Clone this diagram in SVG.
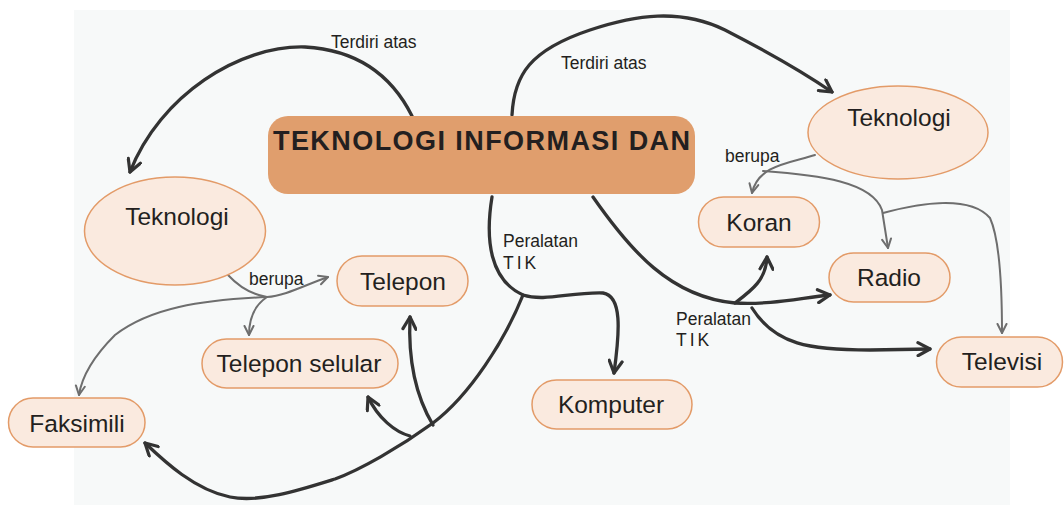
<svg xmlns="http://www.w3.org/2000/svg" width="1064" height="505" viewBox="0 0 1064 505">
<style>
.node rect, .node ellipse { fill: #FAEADF; stroke: #E39B68; stroke-width: 1.5; }
.nt { font-family: "Liberation Sans", Arial, sans-serif; font-size: 24.5px; fill: #231F20; text-anchor: middle; }
.lbl { font-family: "Liberation Sans", Arial, sans-serif; font-size: 17.5px; fill: #231F20; }
.thick { fill: none; stroke: #333333; stroke-width: 3.3; stroke-linecap: round; stroke-linejoin: round; marker-end: url(#ah); }
.thin { fill: none; stroke: #6E6E6E; stroke-width: 2; stroke-linecap: round; stroke-linejoin: round; marker-end: url(#ahs); }
.plain { marker-end: none; }
</style>
<defs>
<marker id="ah" markerUnits="userSpaceOnUse" viewBox="0 0 16 16" refX="14" refY="8" markerWidth="16" markerHeight="16" orient="auto">
<path d="M2,1.5 L14,8 L2,14.5" fill="none" stroke="#333333" stroke-width="3.2" stroke-linecap="round" stroke-linejoin="round"/>
</marker>
<marker id="ahs" markerUnits="userSpaceOnUse" viewBox="0 0 12 12" refX="10.5" refY="6" markerWidth="12" markerHeight="12" orient="auto">
<path d="M1.5,1.5 L10.5,6 L1.5,10.5" fill="none" stroke="#6E6E6E" stroke-width="2" stroke-linecap="round" stroke-linejoin="round"/>
</marker>
</defs>
<rect x="0" y="0" width="1064" height="505" fill="#FFFFFF"/>
<rect x="74" y="10" width="936" height="495" fill="#F7F9F9"/>

<g id="connectors">
<path class="thick" d="M412,116 C392,76 358,50 305,47 C240,45 160,95 130,172"/>
<path class="thick" d="M512,115 C514,75 530,50 590,30 C635,15 680,8 725,30 C760,48 800,70 832,92"/>
<path class="thick" d="M492,197 C485,240 490,280 523,295 C545,302 570,292 603,293 C622,296 620,330 614,373"/>
<path class="thick" d="M523,295 C505,340 470,395 433,423 C400,447 360,470 335,479 C300,490 260,503 230,497 C195,490 165,462 145,443"/>
<path class="thick" d="M433,425 C415,395 408,360 410,317"/>
<path class="thick" d="M410,436 C395,432 378,418 368,397"/>
<path class="thick" d="M593,197 C630,250 670,297 735,303 C770,305 800,298 830,295"/>
<path class="thick" d="M735,303 C752,290 766,280 767,257"/>
<path class="thick" d="M752,308 C775,345 810,350 870,350 L930,349"/>
<path class="thin" d="M815,155 C790,163 758,165 752,193"/>
<path class="thin" d="M763,171 C820,175 872,182 882,210 L888,248"/>
<path class="thin" d="M883,213 C920,203 970,195 990,218 C1000,240 1002,290 1002,333"/>
<path class="thin plain" d="M228,275 C240,288 255,295 267,297"/>
<path class="thin" d="M267,297 C285,296 305,285 328,277"/>
<path class="thin" d="M267,297 C255,305 249,318 249,335"/>
<path class="thin" d="M267,297 C200,300 150,308 115,335 C95,355 82,375 79,395"/>
</g>

<g id="labels">
<text class="lbl" x="331" y="48">Terdiri atas</text>
<text class="lbl" x="561" y="69">Terdiri atas</text>
<text class="lbl" x="725" y="162">berupa</text>
<text class="lbl" x="249" y="285">berupa</text>
<text class="lbl" x="503" y="247">Peralatan</text>
<text class="lbl" x="503" y="269" letter-spacing="3">TIK</text>
<text class="lbl" x="676" y="325">Peralatan</text>
<text class="lbl" x="676" y="346" letter-spacing="3">TIK</text>
</g>

<g id="central">
<rect x="268" y="116" width="427" height="78" rx="20" ry="20" fill="#E09E6D"/>
<text x="273" y="150" font-family="'Liberation Sans', Arial, sans-serif" font-size="27" font-weight="bold" fill="#231F20" textLength="417" lengthAdjust="spacing">TEKNOLOGI INFORMASI DAN</text>
</g>

<g id="tek-left" class="node">
<ellipse cx="175" cy="231" rx="90.5" ry="54"/>
<text class="nt" x="177" y="225">Teknologi</text>
</g>
<g id="tek-right" class="node">
<ellipse cx="898" cy="132.5" rx="90" ry="46.5"/>
<text class="nt" x="899" y="126">Teknologi</text>
</g>
<g id="telepon" class="node">
<rect x="337" y="256" width="131" height="50" rx="25"/>
<text class="nt" x="403" y="290">Telepon</text>
</g>
<g id="telepon-selular" class="node">
<rect x="202" y="339" width="196" height="49" rx="24.5"/>
<text class="nt" x="299" y="372">Telepon selular</text>
</g>
<g id="faksimili" class="node">
<rect x="8.5" y="398" width="136.5" height="49" rx="24.5"/>
<text class="nt" x="77" y="432">Faksimili</text>
</g>
<g id="komputer" class="node">
<rect x="532" y="380" width="160" height="49" rx="24.5"/>
<text class="nt" x="611" y="413">Komputer</text>
</g>
<g id="koran" class="node">
<rect x="698.5" y="197" width="121" height="50" rx="25"/>
<text class="nt" x="759" y="231">Koran</text>
</g>
<g id="radio" class="node">
<rect x="829" y="253" width="121" height="49" rx="24.5"/>
<text class="nt" x="889" y="286">Radio</text>
</g>
<g id="televisi" class="node">
<rect x="936.5" y="337" width="126" height="50" rx="25"/>
<text class="nt" x="1002" y="370">Televisi</text>
</g>
</svg>
